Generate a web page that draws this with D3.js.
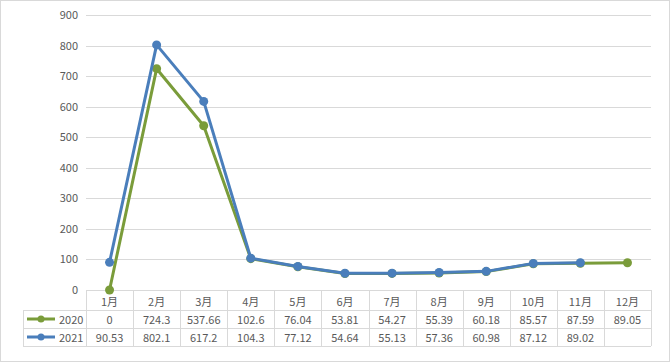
<!DOCTYPE html>
<html><head><meta charset="utf-8">
<script src="https://cdn.jsdelivr.net/npm/d3@7"></script>
<style>
html,body{margin:0;padding:0;background:#fff;}
svg text{font-family:"Noto Sans CJK SC","Noto Sans",sans-serif;}
</style></head>
<body>
<svg id="c" width="670" height="362"></svg>
<script>
const months = ["1月","2月","3月","4月","5月","6月","7月","8月","9月","10月","11月","12月"];
const seriesNames = ["2020","2021"];
const v2020 = [0,724.3,537.66,102.6,76.04,53.81,54.27,55.39,60.18,85.57,87.59,89.05];
const v2021 = [90.53,802.1,617.2,104.3,77.12,54.64,55.13,57.36,60.98,87.12,89.02,null];
const yTicks = [0,100,200,300,400,500,600,700,800,900];
const colors = ["#7A9C3A","#4A7EBB"];

(function(){
const svg = d3.select("#c");
const W=670,H=362;
svg.append("rect").attr("x",0.5).attr("y",0.5).attr("width",W-1).attr("height",H-1)
  .attr("fill","#fff").attr("stroke","#d9d9d9");

const pl=86,pr=651,pt=15,pb=290;
const x = d3.scaleBand().domain(months).range([pl,pr]);
const y = d3.scaleLinear().domain([0,900]).range([pb,pt]);

// grid
svg.append("g").selectAll("line").data(yTicks.filter(d=>d>0)).join("line")
  .attr("x1",pl).attr("x2",pr)
  .attr("y1",d=>Math.round(y(d))+0.5).attr("y2",d=>Math.round(y(d))+0.5)
  .attr("stroke","#d9d9d9").attr("stroke-width",1);

// y labels
const yAxis = d3.axisLeft(y).tickValues(yTicks).tickSize(0).tickPadding(8);
const ga = svg.append("g").attr("transform",`translate(${pl},0)`).call(yAxis);
ga.select(".domain").remove();
ga.selectAll("text").attr("fill","#595959").style("font-size","11px")
  .style("font-family","'Noto Sans CJK SC','Noto Sans',sans-serif");

// table
const rowBot=346;
const tbl = svg.append("g");
const gridC="#d9d9d9";
tbl.append("line").attr("x1",pl).attr("x2",pr).attr("y1",290.5).attr("y2",290.5).attr("stroke",gridC);
[310,328,346].forEach(yy=>{
  tbl.append("line").attr("x1",23).attr("x2",pr).attr("y1",yy+0.5).attr("y2",yy+0.5).attr("stroke",gridC);
});
months.forEach((m)=>{
  const xx=Math.round(x(m))+0.5;
  tbl.append("line").attr("x1",xx).attr("x2",xx).attr("y1",290).attr("y2",rowBot).attr("stroke",gridC);
});
tbl.append("line").attr("x1",pr+0.5).attr("x2",pr+0.5).attr("y1",290).attr("y2",rowBot).attr("stroke",gridC);
tbl.append("line").attr("x1",23.5).attr("x2",23.5).attr("y1",310).attr("y2",rowBot).attr("stroke",gridC);

const txtStyle = s=>s.attr("fill","#595959").style("font-size","11px").attr("text-anchor","middle").attr("dominant-baseline","central");
tbl.selectAll("text.h").data(months).join("text").attr("class","h")
  .attr("x",d=>x(d)+x.bandwidth()/2).attr("y",300.5).text(d=>d).call(txtStyle);
const fmt = v=> v==null?"":String(v);
[v2020,v2021].forEach((vals,si)=>{
  const cy = si===0?319:337;
  tbl.selectAll("text.r"+si).data(vals).join("text").attr("class","r"+si)
    .attr("x",(d,i)=>x(months[i])+x.bandwidth()/2).attr("y",cy).text(fmt).call(txtStyle);
  tbl.append("line").attr("x1",27).attr("x2",55).attr("y1",cy).attr("y2",cy)
    .attr("stroke",colors[si]).attr("stroke-width",3);
  tbl.append("circle").attr("cx",41).attr("cy",cy).attr("r",3.5).attr("fill",colors[si]);
  tbl.append("text").attr("x",59).attr("y",cy).text(seriesNames[si])
    .attr("fill","#595959").style("font-size","11px").attr("dominant-baseline","central");
});

// lines
const line = d3.line().defined(d=>d.v!=null).x(d=>x(d.m)+x.bandwidth()/2).y(d=>y(d.v));
[v2020,v2021].forEach((vals,si)=>{
  const data = vals.map((v,i)=>({m:months[i],v}));
  svg.append("path").datum(data).attr("d",line).attr("fill","none")
    .attr("stroke",colors[si]).attr("stroke-width",3).attr("stroke-linejoin","round");
  svg.append("g").selectAll("circle").data(data.filter(d=>d.v!=null)).join("circle")
    .attr("cx",d=>x(d.m)+x.bandwidth()/2).attr("cy",d=>y(d.v)).attr("r",4.5).attr("fill",colors[si]);
});
})();
</script>
</body></html>
